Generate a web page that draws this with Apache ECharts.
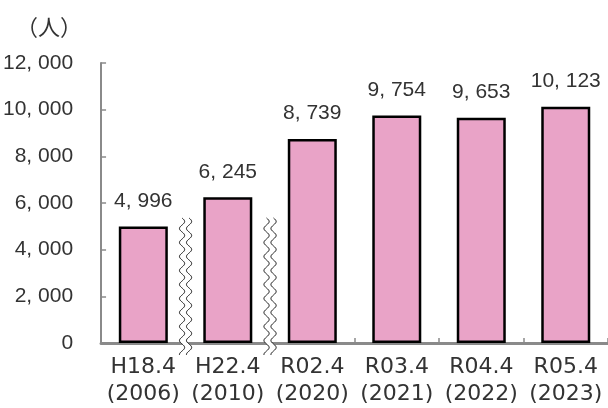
<!DOCTYPE html>
<html>
<head>
<meta charset="utf-8">
<script src="https://cdn.jsdelivr.net/npm/echarts@6/dist/echarts.min.js"></script>
<style>
  html, body { margin: 0; padding: 0; background: #fff; }
  #chart { width: 608px; height: 408px; }
</style>
</head>
<body>
<div id="chart"></div>
<script>
// Number of people by survey date (April of each year)
const categories = ['H18.4\n(2006)', 'H22.4\n(2010)', 'R02.4\n(2020)', 'R03.4\n(2021)', 'R04.4\n(2022)', 'R05.4\n(2023)'];
const people = [4996, 6245, 8739, 9754, 9653, 10123];
const yMin = 0;
const yMax = 12000;
const yStep = 2000;
const unitLabel = '（人）';
// the time axis is not continuous after these category indexes
const axisBreaksAfter = [0, 1];

const numFont = '"Liberation Sans", Arial, sans-serif';
const catFont = '"DejaVu Sans", sans-serif';
const textColor = '#333';

// thousands separator written as ", "
function fmt(v) {
  return String(v).replace(/\B(?=(\d{3})+(?!\d))/g, ', ');
}

// wavy double line marking a gap in the time axis
function renderBreak(params, api) {
  const idx = api.value(0);
  const base = api.coord([idx, 0]);
  const band = api.size([1, 0])[0];
  const cx = base[0] + band / 2;
  const yTop = base[1] - 125;
  const yBot = base[1] + 12;
  const amp = 2.6, period = 14, half = 3.5;
  const left = [], right = [];
  for (let y = yTop; y <= yBot + 0.01; y += 0.5) {
    const dx = amp * Math.sin((y - yTop) / period * Math.PI * 2);
    left.push([cx - half + dx, y]);
    right.push([cx + half + dx, y]);
  }
  const fill = left.concat(right.slice().reverse());
  return {
    type: 'group',
    children: [
      { type: 'polygon', shape: { points: fill }, style: { fill: '#fff', stroke: null } },
      { type: 'polyline', shape: { points: left }, style: { stroke: '#111', lineWidth: 1, fill: null } },
      { type: 'polyline', shape: { points: right }, style: { stroke: '#111', lineWidth: 1, fill: null } }
    ]
  };
}

const chart = echarts.init(document.getElementById('chart'), null, { renderer: 'canvas' });
chart.setOption({
  animation: false,
  backgroundColor: '#fff',
  grid: { left: 100, right: 0, top: 63, bottom: 63, containLabel: false },
  graphic: [{
    type: 'text',
    x: 49, y: 27,
    style: {
      text: unitLabel,
      font: '22px "Noto Sans CJK JP", sans-serif',
      fill: textColor,
      textAlign: 'center',
      textVerticalAlign: 'middle'
    }
  }],
  xAxis: {
    type: 'category',
    data: categories,
    axisLine: { lineStyle: { color: '#8a8a8a', width: 3 } },
    axisTick: { show: true, inside: true, length: 5, lineStyle: { color: '#8a8a8a', width: 1.5 } },
    axisLabel: {
      color: textColor,
      fontFamily: catFont,
      fontSize: 22,
      lineHeight: 27,
      margin: 11,
      interval: 0
    }
  },
  yAxis: {
    type: 'value',
    min: yMin,
    max: yMax,
    interval: yStep,
    splitLine: { show: false },
    axisLine: { show: true, lineStyle: { color: '#8a8a8a', width: 2 } },
    axisTick: { show: true, inside: true, length: 5, lineStyle: { color: '#8a8a8a', width: 1.5 } },
    axisLabel: {
      color: textColor,
      fontFamily: numFont,
      fontSize: 21,
      margin: 28,
      formatter: fmt
    }
  },
  series: [
    {
      type: 'bar',
      data: people,
      barWidth: '58%',
      itemStyle: { color: '#E9A3C7', borderColor: '#000', borderWidth: 2.5 },
      label: {
        show: true,
        position: 'top',
        distance: 15,
        color: textColor,
        fontFamily: numFont,
        fontSize: 21,
        formatter: p => fmt(p.value)
      }
    },
    {
      type: 'custom',
      renderItem: renderBreak,
      data: axisBreaksAfter.map(i => [i]),
      clip: false,
      silent: true,
      z: 5
    }
  ]
});
</script>
</body>
</html>
